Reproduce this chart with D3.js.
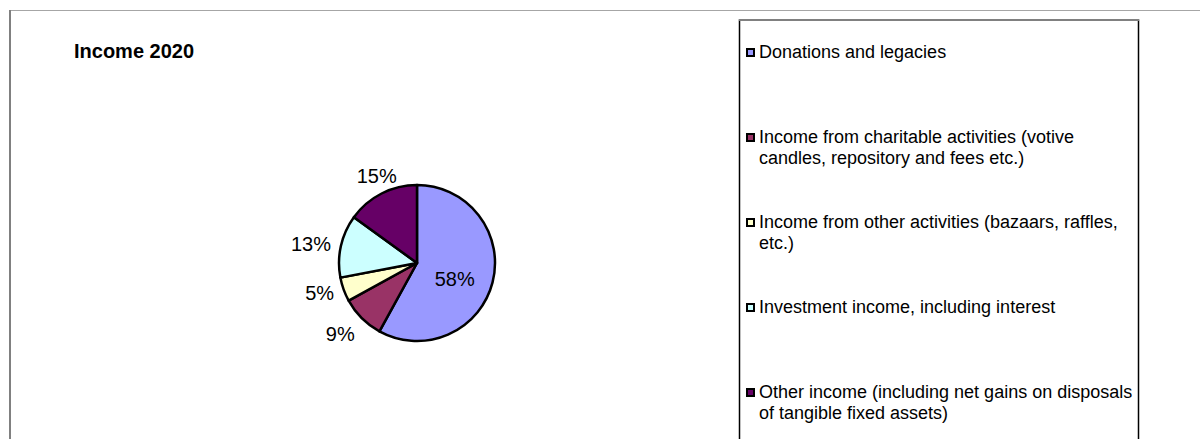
<!DOCTYPE html>
<html>
<head>
<meta charset="utf-8">
<script src="https://cdn.jsdelivr.net/npm/d3@7"></script>
<style>
  body { margin: 0; background: #fff; }
  svg { display: block; font-family: Arial, "Liberation Sans", sans-serif; }
</style>
</head>
<body>
<div id="chart"></div>
<script>
const title = 'Income 2020'
const categories = [
  'Donations and legacies',
  'Income from charitable activities (votive candles, repository and fees etc.)',
  'Income from other activities (bazaars, raffles, etc.)',
  'Investment income, including interest',
  'Other income (including net gains on disposals of tangible fixed assets)'
]
const values = [58, 9, 5, 13, 15]
const colors = ['#9999ff', '#993366', '#ffffcc', '#ccffff', '#660066']

const chartWidth = 1200
const chartHeight = 439

const svg = d3
  .select('#chart')
  .append('svg')
  .attr('width', chartWidth)
  .attr('height', chartHeight)

// outer frame (only top and left edges are visible)
svg.append('line')
  .attr('x1', 10).attr('x2', chartWidth).attr('y1', 10.5).attr('y2', 10.5)
  .attr('stroke', '#a6a6a6').attr('stroke-width', 1)
svg.append('line')
  .attr('x1', 10).attr('x2', 10).attr('y1', 10).attr('y2', chartHeight)
  .attr('stroke', '#808080').attr('stroke-width', 2)

svg.append('text')
  .attr('x', 74)
  .attr('y', 58)
  .attr('font-size', 20)
  .attr('font-weight', 'bold')
  .text(title)

// pie
const cx = 417
const cy = 263
const r = 78
const data = categories.map((c, i) => ({ category: c, value: values[i], color: colors[i] }))
const pie = d3.pie().sort(null).value((d) => d.value)
const arcs = pie(data)
const arc = d3.arc().innerRadius(0).outerRadius(r)
const total = d3.sum(values)
const pct = (v) => Math.round((v / total) * 100) + '%'

const g = svg.append('g').attr('transform', `translate(${cx}, ${cy})`)
g.selectAll('path')
  .data(arcs)
  .enter()
  .append('path')
  .attr('d', arc)
  .attr('fill', (d) => d.data.color)
  .attr('stroke', '#000')
  .attr('stroke-width', 2.5)
  .attr('stroke-linejoin', 'round')

const labels = g.selectAll('text.lbl')
  .data(arcs)
  .enter()
  .append('text')
  .attr('class', 'lbl')
  .attr('font-size', 20)
  .attr('text-anchor', 'middle')
  .attr('dominant-baseline', 'central')
  .text((d) => pct(d.data.value))

const ramp = (v) => Math.max(0, Math.min(1, (Math.abs(v) - 0.45) / 0.25)) * Math.sign(v)

labels.each(function (d, i) {
  const el = d3.select(this)
  const mid = (d.startAngle + d.endAngle) / 2
  const dx = Math.sin(mid)
  const dy = -Math.cos(mid)
  if (i === 0) {
    // first slice label sits inside
    const rr = r * 0.5
    el.attr('x', dx * rr).attr('y', dy * rr + 6)
    return
  }
  const box = this.getBBox()
  const rr = r + 10
  el.attr('x', dx * rr + ramp(dx) * box.width / 2)
    .attr('y', dy * rr + ramp(dy) * 9)
})

// legend
const legend = svg.append('g')
legend.append('rect')
  .attr('x', 739.5)
  .attr('y', 20)
  .attr('width', 399)
  .attr('height', chartHeight)
  .attr('fill', '#fff')
  .attr('stroke', '#000')
  .attr('stroke-width', 1.5)
legend.append('line')
  .attr('x1', 739).attr('x2', 1139).attr('y1', 20).attr('y2', 20)
  .attr('stroke', '#808080').attr('stroke-width', 2)

const wrapWidth = 378
const items = legend.selectAll('g.item')
  .data(data)
  .enter()
  .append('g')
  .attr('class', 'item')
  .attr('transform', (d, i) => `translate(0, ${58 + i * 85})`)

items.append('rect')
  .attr('x', 747)
  .attr('y', -9)
  .attr('width', 7)
  .attr('height', 7)
  .attr('fill', (d) => d.color)
  .attr('stroke', '#000')
  .attr('stroke-width', 2)

items.append('text')
  .attr('x', 759)
  .attr('y', 0)
  .attr('font-size', 18)
  .each(function (d) {
    const el = d3.select(this)
    const words = d.category.split(/\s+/)
    let line = []
    let tspan = el.append('tspan').attr('x', 759).attr('dy', 0)
    words.forEach((w) => {
      line.push(w)
      tspan.text(line.join(' '))
      if (tspan.node().getComputedTextLength() > wrapWidth && line.length > 1) {
        line.pop()
        tspan.text(line.join(' '))
        line = [w]
        tspan = el.append('tspan').attr('x', 759).attr('dy', 21).text(w)
      }
    })
  })
</script>
</body>
</html>
